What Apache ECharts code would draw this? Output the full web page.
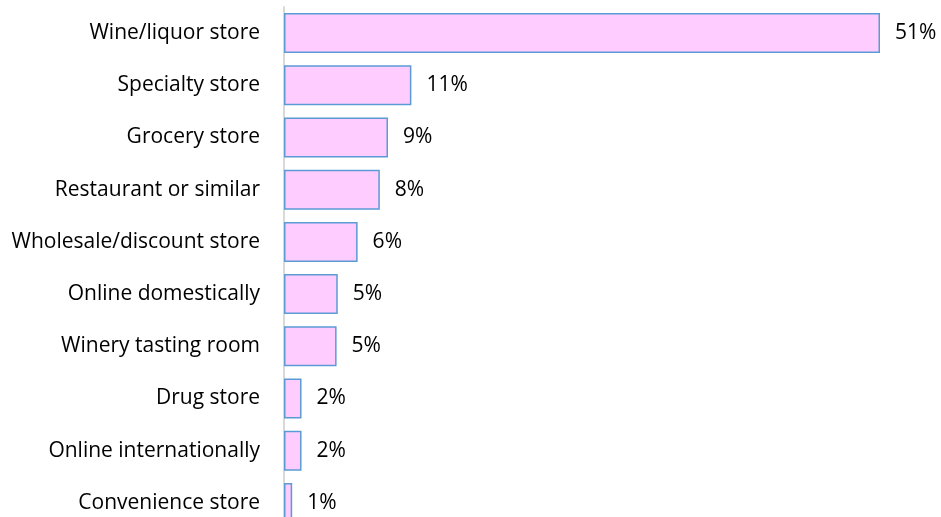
<!DOCTYPE html>
<html>
<head>
<meta charset="utf-8">
<script src="https://cdn.jsdelivr.net/npm/echarts@6/dist/echarts.min.js"></script>
<style>
  html, body { margin: 0; padding: 0; background: #fff; }
  #chart { width: 941px; height: 517px; }
</style>
</head>
<body>
<div id="chart"></div>
<script>
// where people buy wine, share of respondents (%)
const categories = [
  'Wine/liquor store',
  'Specialty store',
  'Grocery store',
  'Restaurant or similar',
  'Wholesale/discount store',
  'Online domestically',
  'Winery tasting room',
  'Drug store',
  'Online internationally',
  'Convenience store'
]
const shares = [51, 10.9, 8.9, 8.2, 6.3, 4.6, 4.5, 1.5, 1.5, 0.7]

const font = 'Open Sans, Liberation Sans, sans-serif'

const option = {
  backgroundColor: '#fff',
  animation: false,
  grid: {
    left: 284,
    width: 596,
    top: 7,
    height: 522,
    outerBoundsMode: 'none'
  },
  xAxis: {
    type: 'value',
    min: 0,
    max: 51,
    show: false
  },
  yAxis: {
    type: 'category',
    inverse: true,
    data: categories,
    axisLine: { show: true, lineStyle: { color: '#d9d9d9', width: 2 } },
    axisTick: { show: false },
    axisLabel: {
      margin: 24,
      color: '#000',
      fontSize: 21,
      fontFamily: font
    }
  },
  series: [{
    type: 'bar',
    data: shares,
    barWidth: 40,
    itemStyle: {
      color: '#ffccff',
      borderColor: '#5b9bd5',
      borderWidth: 1.5
    },
    label: {
      show: true,
      position: 'right',
      distance: 15,
      color: '#000',
      fontSize: 21,
      fontFamily: font,
      formatter: (p) => Math.round(p.value) + '%'
    }
  }]
}

let myChart = echarts.init(document.getElementById('chart'))
myChart.setOption(option, true)
</script>
</body>
</html>
